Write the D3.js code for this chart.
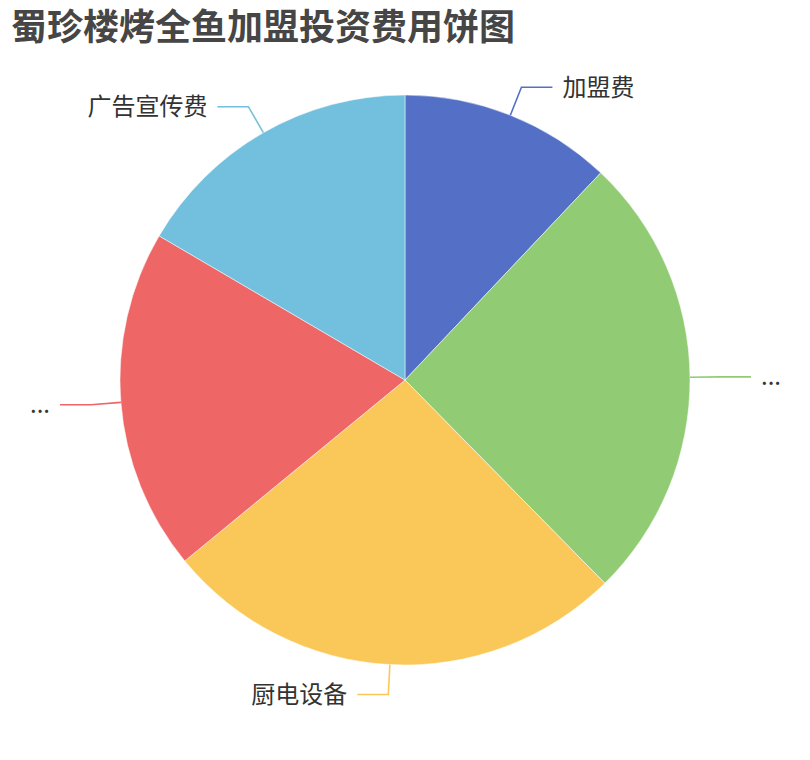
<!DOCTYPE html>
<html>
<head>
<meta charset="utf-8">
<script src="https://cdn.jsdelivr.net/npm/d3@7"></script>
<style>
  body { margin: 0; background: #fff; }
  svg { display: block; font-family: "Noto Sans CJK SC", "Noto Sans", sans-serif; }
</style>
</head>
<body>
<script>
// slice labels as shown (two are truncated to "..." in the picture)
var labels = ["加盟费", "...", "厨电设备", "...", "广告宣传费"];
// shares (percent)
var values = [12.05, 25.58, 26.42, 19.38, 16.56];
var colors = ["#5470c6", "#91cc75", "#fac858", "#ee6666", "#73c0de"];
var title = "蜀珍楼烤全鱼加盟投资费用饼图";

var width = 810, height = 760;
var cx = width / 2, cy = height / 2,
    radius = Math.min(width, height) / 2 * 0.75;
var len1 = 30, len2 = 31, gap = 10;

var svg = d3.select("body").append("svg")
    .attr("width", width)
    .attr("height", height);

svg.append("text")
    .attr("x", 11)
    .attr("y", 40)
    .attr("font-size", "36px")
    .attr("font-weight", "bold")
    .attr("fill", "#464646")
    .text(title);

var data = labels.map(function (l, i) { return { label: l, value: values[i], color: colors[i] }; });

var pie = d3.pie()
    .sort(null)
    .value(function (d) { return d.value; });

var arc = d3.arc()
    .innerRadius(0)
    .outerRadius(radius);

var g = svg.append("g")
    .attr("transform", "translate(" + cx + "," + cy + ")");

var arcs = pie(data);

g.selectAll("path.slice")
    .data(arcs)
  .enter().append("path")
    .attr("class", "slice")
    .attr("d", arc)
    .attr("fill", function (d) { return d.data.color; })
    .attr("stroke", "#fff")
    .attr("stroke-width", 0.5);

function pt(a, r) { return [r * Math.sin(a), -r * Math.cos(a)]; }

arcs.forEach(function (d) {
    var a = (d.startAngle + d.endAngle) / 2;
    var side = Math.sin(a) >= 0 ? 1 : -1;
    var p0 = pt(a, radius), p1 = pt(a, radius + len1);
    var p2 = [p1[0] + side * len2, p1[1]];

    g.append("polyline")
        .attr("points", [p0, p1, p2].map(function (p) { return p.join(","); }).join(" "))
        .attr("fill", "none")
        .attr("stroke", d.data.color)
        .attr("stroke-width", 1.6);

    g.append("text")
        .attr("x", p2[0] + side * gap)
        .attr("y", p2[1] + 8.4)
        .attr("text-anchor", side > 0 ? "start" : "end")
        .attr("font-size", "24px")
        .attr("fill", "#333")
        .text(d.data.label);
});
</script>
</body>
</html>
